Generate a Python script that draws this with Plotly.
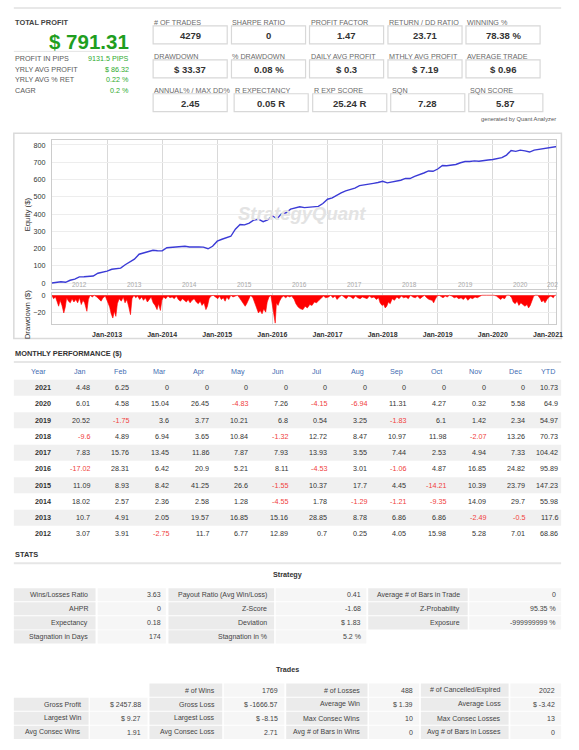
import plotly.graph_objects as go
import pandas as pd

W, H = 579, 750
FONT = "Liberation Sans, Arial, sans-serif"

# ---------------- data ----------------
total_profit = "$ 791.31"
summary_labels = ["PROFIT IN PIPS", "YRLY AVG PROFIT", "YRLY AVG % RET", "CAGR"]
summary_values = ["9131.5 PIPS", "$ 86.32", "0.22 %", "0.2 %"]

kpi_labels = [
    ["# OF TRADES", "SHARPE RATIO", "PROFIT FACTOR", "RETURN / DD RATIO", "WINNING %"],
    ["DRAWDOWN", "% DRAWDOWN", "DAILY AVG PROFIT", "MTHLY AVG PROFIT", "AVERAGE TRADE"],
    ["ANNUAL% / MAX DD%", "R EXPECTANCY", "R EXP SCORE", "SQN", "SQN SCORE"],
]
kpi_values = [
    ["4279", "0", "1.47", "23.71", "78.38 %"],
    ["$ 33.37", "0.08 %", "$ 0.3", "$ 7.19", "$ 0.96"],
    ["2.45", "0.05 R", "25.24 R", "7.28", "5.87"],
]

# equity at each month start (first value = start of Jan 2012)
equity_values = [
    0,
    3.07, 6.98, 4.23, 15.93, 22.70, 35.59, 36.29, 36.54, 40.59, 56.57, 61.85, 68.86,
    79.56, 84.47, 86.52, 106.09, 122.94, 138.10, 166.95, 175.73, 182.59, 189.45, 186.96, 186.46,
    204.48, 207.05, 209.41, 211.99, 213.27, 208.72, 210.50, 209.21, 208.00, 198.65, 212.74, 242.44,
    253.53, 262.46, 270.88, 312.13, 338.73, 337.18, 347.55, 365.25, 369.70, 355.49, 365.88, 389.67,
    372.65, 400.96, 407.38, 428.28, 433.49, 441.60, 437.07, 440.08, 439.02, 443.89, 460.74, 485.56,
    493.39, 509.15, 522.60, 534.46, 542.33, 550.26, 564.19, 567.74, 575.18, 577.71, 582.65, 589.98,
    580.38, 585.27, 592.21, 595.86, 606.70, 605.38, 618.10, 626.57, 637.54, 649.52, 647.45, 660.71,
    681.23, 679.48, 683.08, 686.85, 697.06, 703.86, 704.40, 707.65, 705.82, 711.92, 713.34, 715.68,
    721.69, 726.27, 741.31, 767.76, 762.93, 770.19, 766.04, 759.10, 770.41, 774.68, 775.00, 780.58,
    785.06, 791.31,
]
equity_dates = pd.date_range("2012-01-01", periods=len(equity_values), freq="MS")

dd_dates = [
    "2012-01-01", "2012-01-12", "2012-01-25", "2012-02-05", "2012-02-15", "2012-02-25", "2012-03-08", "2012-03-20",
    "2012-03-30", "2012-04-08", "2012-04-20", "2012-05-02", "2012-05-14", "2012-05-26", "2012-06-08", "2012-06-20",
    "2012-07-02", "2012-07-14", "2012-07-25", "2012-08-05", "2012-08-20", "2012-08-30", "2012-09-10", "2012-09-25",
    "2012-10-08", "2012-10-25", "2012-11-08", "2012-11-22", "2012-12-05", "2012-12-20",
    "2013-01-05", "2013-01-18", "2013-01-28", "2013-02-08", "2013-02-18", "2013-02-28", "2013-03-10", "2013-03-22",
    "2013-04-05", "2013-04-18", "2013-04-30", "2013-05-12", "2013-05-25", "2013-06-05", "2013-06-15", "2013-06-28",
    "2013-07-10", "2013-07-22", "2013-08-05", "2013-08-18", "2013-08-30", "2013-09-12", "2013-09-25", "2013-10-08",
    "2013-10-20", "2013-11-02", "2013-11-15", "2013-11-28", "2013-12-08", "2013-12-20", "2013-12-30",
    "2014-01-10", "2014-01-25", "2014-02-08", "2014-02-22", "2014-03-08", "2014-03-22", "2014-04-05", "2014-04-18",
    "2014-05-02", "2014-05-15", "2014-05-28", "2014-06-10", "2014-06-22", "2014-07-05", "2014-07-18", "2014-08-01",
    "2014-08-15", "2014-08-28", "2014-09-10", "2014-09-22", "2014-10-05", "2014-10-18", "2014-10-28", "2014-11-08",
    "2014-11-20", "2014-12-05", "2014-12-20",
    "2015-01-05", "2015-01-15", "2015-01-28", "2015-02-10", "2015-02-22", "2015-03-05", "2015-03-18", "2015-04-01",
    "2015-04-15", "2015-05-01", "2015-05-15", "2015-05-28", "2015-06-10", "2015-06-22", "2015-07-05", "2015-07-15",
    "2015-07-28", "2015-08-10", "2015-08-25", "2015-09-05", "2015-09-18", "2015-10-01", "2015-10-12", "2015-10-25",
    "2015-11-05", "2015-11-18", "2015-11-28", "2015-12-10", "2015-12-22",
    "2016-01-05", "2016-01-12", "2016-01-20", "2016-01-28", "2016-02-08", "2016-02-18", "2016-03-01", "2016-03-15",
    "2016-03-30", "2016-04-12", "2016-04-25", "2016-05-08", "2016-05-25", "2016-06-05", "2016-06-20", "2016-07-05",
    "2016-07-22", "2016-08-05", "2016-08-20", "2016-09-05", "2016-09-20", "2016-10-05", "2016-10-20", "2016-11-05",
    "2016-11-20", "2016-12-05", "2016-12-20",
    "2017-01-08", "2017-01-22", "2017-02-05", "2017-02-20", "2017-03-05", "2017-03-20", "2017-04-05", "2017-04-20",
    "2017-05-05", "2017-05-20", "2017-06-05", "2017-06-20", "2017-07-05", "2017-07-20", "2017-08-05", "2017-08-20",
    "2017-09-05", "2017-09-20", "2017-10-05", "2017-10-20", "2017-11-05", "2017-11-20", "2017-12-05", "2017-12-15",
    "2017-12-28",
    "2018-01-08", "2018-01-18", "2018-01-28", "2018-02-08", "2018-02-20", "2018-03-05", "2018-03-20", "2018-04-05",
    "2018-04-20", "2018-05-05", "2018-05-20", "2018-06-05", "2018-06-20", "2018-07-05", "2018-07-20", "2018-08-05",
    "2018-08-20", "2018-09-05", "2018-09-20", "2018-10-05", "2018-10-20", "2018-11-05", "2018-11-25", "2018-12-05",
    "2018-12-15", "2018-12-28",
    "2019-01-10", "2019-01-25", "2019-02-05", "2019-02-20", "2019-03-05", "2019-03-20", "2019-04-05", "2019-04-20",
    "2019-05-05", "2019-05-20", "2019-06-05", "2019-06-20", "2019-07-05", "2019-07-20", "2019-08-05", "2019-08-20",
    "2019-09-05", "2019-09-20", "2019-10-05", "2019-10-20", "2019-11-20", "2019-12-20",
    "2020-01-10", "2020-01-25", "2020-02-10", "2020-02-22", "2020-03-05", "2020-03-20", "2020-04-01", "2020-04-20",
    "2020-05-05", "2020-05-15", "2020-05-28", "2020-06-10", "2020-06-22", "2020-07-05", "2020-07-18", "2020-08-01",
    "2020-08-15", "2020-08-25", "2020-09-05", "2020-09-15", "2020-09-28", "2020-10-10", "2020-10-25", "2020-11-10",
    "2020-11-20", "2020-12-01", "2020-12-12", "2020-12-25",
    "2021-01-08", "2021-01-20", "2021-02-05", "2021-02-15", "2021-02-26",
]
dd_values = [
    0, -4, -2, -9, -13, -6, -12, -21, -14, -3, -7, -9, -4, -8, -5, -9,
    -3, -11, -6, -9, -19, -5, 0, -2, 0, -2, -5, -7, -3, -1,
    -8, -14, -22, -27, -19, -25, -10, -4, -7, -2, -9, -5, -14, -23, -4, 0,
    -3, -1, -5, -2, -6, -3, -8, -5, -2, -9, -12, -17, -10, -18, -6,
    -2, -4, -1, -3, -2, -4, -1, -5, -7, -4, -6, -8, -5, -9, -6, -4,
    -8, -10, -7, -12, -9, -17, -13, -4, -1, 0, -2,
    -4, -1, -5, -3, -7, -2, -5, 0, -2, -1, 0, -3, -6, -9, -13, -10,
    -4, 0, -3, -9, -15, -21, -18, -22, -16, -20, -8, -2, 0,
    -14, -24, -33, -9, -12, -7, -3, -1, -3, -1, -2, -1, -5, -10, -14, -16,
    -17, -13, -15, -11, -12, -8, -9, -6, -3, -1, -3,
    -2, 0, -3, -1, -5, -2, 0, -2, -4, -1, -2, -4, -1, -3, -4, -2,
    -3, -4, -1, -3, -2, -5, -3, -9, -12,
    -11, -15, -13, -8, -10, -4, -6, -2, -4, -1, -3, -2, -4, 0, -2, -3,
    -1, -4, -2, 0, -3, -5, -6, -9, -5, -1,
    0, -2, -3, -1, -2, 0, -1, -3, -2, -4, -3, -5, -2, -6, -3, -4,
    -2, -3, -1, 0, 0, 0,
    0, -1, -4, -5, -3, -4, 0, 0, -3, -8, -10, -7, -12, -9, -11, -13,
    -11, -15, -12, -6, -1, 0, 0, -4, -8, -6, -9, -5,
    -2, -1, -3, 0, 0,
]

year_label_text = ["2012", "2013", "2014", "2015", "2016", "2017", "2018", "2019", "2020", "202"]
year_label_dates = ["2012-07-01", "2013-07-01", "2014-07-01", "2015-07-01", "2016-07-01",
                    "2017-07-01", "2018-07-01", "2019-07-01", "2020-07-01", "2021-01-31"]
grid_dates = ["2012-01-01", "2013-01-01", "2014-01-01", "2015-01-01", "2016-01-01", "2017-01-01",
              "2018-01-01", "2019-01-01", "2020-01-01", "2021-01-01"]
jan_tick_dates = ["2013-01-01", "2014-01-01", "2015-01-01", "2016-01-01", "2017-01-01",
                  "2018-01-01", "2019-01-01", "2020-01-01", "2021-01-01"]
jan_tick_text = ["Jan-2013", "Jan-2014", "Jan-2015", "Jan-2016", "Jan-2017",
                 "Jan-2018", "Jan-2019", "Jan-2020", "Jan-2021"]

table_years = ["2021", "2020", "2019", "2018", "2017", "2016", "2015", "2014", "2013", "2012"]
month_names = ["Jan", "Feb", "Mar", "Apr", "May", "Jun", "Jul", "Aug", "Sep", "Oct", "Nov", "Dec"]
monthly = [
    [4.48, 6.25, 0, 0, 0, 0, 0, 0, 0, 0, 0, 0],
    [6.01, 4.58, 15.04, 26.45, -4.83, 7.26, -4.15, -6.94, 11.31, 4.27, 0.32, 5.58],
    [20.52, -1.75, 3.6, 3.77, 10.21, 6.8, 0.54, 3.25, -1.83, 6.1, 1.42, 2.34],
    [-9.6, 4.89, 6.94, 3.65, 10.84, -1.32, 12.72, 8.47, 10.97, 11.98, -2.07, 13.26],
    [7.83, 15.76, 13.45, 11.86, 7.87, 7.93, 13.93, 3.55, 7.44, 2.53, 4.94, 7.33],
    [-17.02, 28.31, 6.42, 20.9, 5.21, 8.11, -4.53, 3.01, -1.06, 4.87, 16.85, 24.82],
    [11.09, 8.93, 8.42, 41.25, 26.6, -1.55, 10.37, 17.7, 4.45, -14.21, 10.39, 23.79],
    [18.02, 2.57, 2.36, 2.58, 1.28, -4.55, 1.78, -1.29, -1.21, -9.35, 14.09, 29.7],
    [10.7, 4.91, 2.05, 19.57, 16.85, 15.16, 28.85, 8.78, 6.86, 6.86, -2.49, -0.5],
    [3.07, 3.91, -2.75, 11.7, 6.77, 12.89, 0.7, 0.25, 4.05, 15.98, 5.28, 7.01],
]
ytd = [10.73, 64.9, 54.97, 70.73, 104.42, 95.89, 147.23, 55.98, 117.6, 68.86]

strategy_rows = [
    [("Wins/Losses Ratio", "3.63"), ("Payout Ratio (Avg Win/Loss)", "0.41"), ("Average # of Bars in Trade", "0")],
    [("AHPR", "0"), ("Z-Score", "-1.68"), ("Z-Probability", "95.35 %")],
    [("Expectancy", "0.18"), ("Deviation", "$ 1.83"), ("Exposure", "-999999999 %")],
    [("Stagnation in Days", "174"), ("Stagnation in %", "5.2 %")],
]
trades_rows = [
    [None, ("# of Wins", "1769"), ("# of Losses", "488"), ("# of Cancelled/Expired", "2022")],
    [("Gross Profit", "$ 2457.88"), ("Gross Loss", "$ -1666.57"), ("Average Win", "$ 1.39"), ("Average Loss", "$ -3.42")],
    [("Largest Win", "$ 9.27"), ("Largest Loss", "$ -8.15"), ("Max Consec Wins", "10"), ("Max Consec Losses", "13")],
    [("Avg Consec Wins", "1.91"), ("Avg Consec Loss", "2.71"), ("Avg # of Bars in Wins", "0"), ("Avg # of Bars in Losses", "0")],
]

# ---------------- helpers ----------------
annotations = []
shapes = []


def txt(x, y, s, size=7.3, color="#444", anchor="left", bold=False, italic=False, angle=0):
    annotations.append(dict(
        x=x / W, y=1 - y / H, xref="paper", yref="paper", text=s, showarrow=False,
        xanchor=anchor, yanchor="middle", textangle=angle, borderpad=0,
        font=dict(family=FONT, size=size, color=color,
                  weight="bold" if bold else "normal",
                  style="italic" if italic else "normal")))


def rect(x0, y0, x1, y1, fill=None, line=None, lw=1):
    shapes.append(dict(
        type="rect", xref="paper", yref="paper", x0=x0 / W, x1=x1 / W, y0=1 - y1 / H, y1=1 - y0 / H,
        fillcolor=fill if fill else "rgba(0,0,0,0)",
        line=dict(color=line if line else "rgba(0,0,0,0)", width=lw if line else 0),
        layer="below"))


def hline(x0, x1, y, color="#e6e6e6", lw=1):
    shapes.append(dict(type="line", xref="paper", yref="paper", x0=x0 / W, x1=x1 / W,
                       y0=1 - y / H, y1=1 - y / H, line=dict(color=color, width=lw), layer="below"))


# ---------------- header ----------------
hline(14, 568, 6, "#e8e8e8", 2)
txt(14, 20.7, "TOTAL PROFIT", 7.4, "#444", bold=True)
txt(131.5, 39.5, total_profit, 20.5, "#1f9e1f", "right", bold=True)
hline(14, 131, 49.5, "#e4e4e4", 1)
for i, (lab, val) in enumerate(zip(summary_labels, summary_values)):
    y = 56.8 + i * 10.65
    txt(14, y, lab, 7.2, "#5a5a5a")
    txt(131.5, y, val, 7.2, "#2eaa2e", "right")

row_label_y = [20.7, 54.2, 88.3]
row_box_y = [(24, 42), (58, 76), (92, 110)]
col_x = [[155, 234.3, 313.3, 392.7, 471.7],
         [155, 234.3, 313.3, 392.7, 471.7],
         [155, 237, 316.5, 395.5, 474.5]]
for r in range(3):
    for c in range(5):
        x0 = col_x[r][c]
        y0, y1 = row_box_y[r]
        rect(x0, y0, x0 + 75, y1, fill="#ffffff", line="#d8d8d8", lw=1.2)
        txt(x0, row_label_y[r], kpi_labels[r][c], 7.2, "#6a6a6a")
        txt(x0 + 37.5, (y0 + y1) / 2 + 0.3, kpi_values[r][c], 9.5, "#333333", "center", bold=True)
txt(564, 117.5, "generated by Quant Analyzer", 5.8, "#555555", "right")

# ---------------- chart ----------------
rect(14, 131.7, 568.3, 337.3, fill="#ffffff", line="#dadada", lw=1.5)
txt(306, 212, "StrategyQuant", 18.5, "#e3e3e3", "center", bold=True, italic=True)
txt(28, 213.5, "Equity ($)", 7.9, "#333333", "center", angle=-90)
txt(28, 313.5, "Drawdown ($)", 7.9, "#333333", "center", angle=-90)
for d, t in zip(year_label_dates, year_label_text):
    annotations.append(dict(x=d, y=1 - 283.7 / H, xref="x", yref="paper", text=t, showarrow=False,
                            xanchor="center", yanchor="middle", borderpad=0,
                            font=dict(family=FONT, size=6.5, color="#aaaaaa")))

fig = go.Figure()
fig.add_trace(go.Scatter(x=equity_dates, y=equity_values, mode="lines",
                         line=dict(color="#3b3bd6", width=1.4), xaxis="x", yaxis="y",
                         hoverinfo="skip", showlegend=False))
fig.add_trace(go.Scatter(x=pd.to_datetime(dd_dates), y=dd_values, mode="lines", fill="tozeroy",
                         fillcolor="#ff0000", line=dict(color="#ff0000", width=0.6),
                         xaxis="x2", yaxis="y2", hoverinfo="skip", showlegend=False))

xdom = [52.5 / W, 563.3 / W]
xrange_ = ["2012-01-01", "2021-02-26"]
axis_line = dict(showline=True, mirror=True, linecolor="#cccccc", linewidth=1, zeroline=False)

# ---------------- monthly table ----------------
txt(14, 352.7, "MONTHLY PERFORMANCE ($)", 7.4, "#333333", bold=True)
hline(14, 568, 361, "#e6e6e6", 2)
col_right = [92 + 40.06 * i for i in range(12)] + [566]
txt(39, 370.5, "Year", 7.2, "#3f6db3", "center")
for j, m in enumerate(month_names + ["YTD"]):
    txt(col_right[j] - 11, 370.5, m, 7.2, "#3f6db3", "center")
for i, yr in enumerate(table_years):
    y = 386.7 + i * 16.3
    if i % 2 == 0:
        rect(14, y - 8, 568, y + 8, fill="#f0f0f0")
    txt(43.5, y, yr, 7.2, "#333333", "center", bold=True)
    vals = monthly[i] + [ytd[i]]
    for j, v in enumerate(vals):
        color = "#f0403c" if v < 0 else "#333333"
        txt(col_right[j], y, f"{v:g}", 7.2, color, "right")

# ---------------- stats ----------------
txt(14, 554.3, "STATS", 7.4, "#333333", bold=True)
hline(14, 568, 562.7, "#e6e6e6", 2)
txt(291, 574.3, "Strategy", 7.2, "#333333", "center", bold=True)
s_cells = [(14, 96.7), (98.9, 167.9), (170.5, 277.5), (279, 370.8), (372.7, 473.4), (475, 568)]
for i, row in enumerate(strategy_rows):
    y = 594.3 + i * 14.1
    for g, (lab, val) in enumerate(row):
        lx0, lx1 = s_cells[2 * g]
        vx0, vx1 = s_cells[2 * g + 1]
        rect(lx0, y - 6.6, lx1, y + 6.6, fill="#ebebeb")
        rect(vx0, y - 6.6, vx1, y + 6.6, fill="#f6f6f6")
        txt(lx1 - 6.5, y, lab, 7.0, "#444444", "right")
        txt(vx1 - 4, y, val, 7.0, "#444444", "right")

txt(291.5, 669, "Trades", 7.2, "#333333", "center", bold=True)
t_cells = [(14, 89.7), (91, 149.4), (151.3, 225), (226.5, 287.8), (289.7, 372), (373.5, 424.4), (426, 514.8), (516.6, 568)]
for i, row in enumerate(trades_rows):
    y = 690 + i * 14.1
    for g, cell in enumerate(row):
        if cell is None:
            continue
        lab, val = cell
        lx0, lx1 = t_cells[2 * g]
        vx0, vx1 = t_cells[2 * g + 1]
        rect(lx0, y - 6.6, lx1, y + 6.6, fill="#ebebeb")
        rect(vx0, y - 6.6, vx1, y + 6.6, fill="#f6f6f6")
        txt(lx1 - 6.5, y, lab, 7.0, "#444444", "right")
        txt(vx1 - 5.5, y, val, 7.0, "#444444", "right")

fig.update_layout(
    width=W, height=H, autosize=False,
    margin=dict(l=0, r=0, t=0, b=0, pad=0),
    paper_bgcolor="#ffffff", plot_bgcolor="rgba(0,0,0,0)",
    font=dict(family=FONT, size=7, color="#333333"),
    showlegend=False,
    xaxis=dict(domain=xdom, anchor="y", type="date", range=xrange_,
               tickmode="array", tickvals=grid_dates, showticklabels=False, ticks="",
               showgrid=True, gridcolor="#d9d9d9", gridwidth=1,
               **axis_line),
    yaxis=dict(domain=[1 - 288 / H, 1 - 138 / H], anchor="x", range=[-36, 831],
               tickmode="array", tickvals=list(range(0, 801, 100)),
               showgrid=True, gridcolor="#ededed", ticks="", ticklabelstandoff=4,
               tickfont=dict(size=7.2, color="#333333"), **axis_line),
    xaxis2=dict(domain=xdom, anchor="y2", type="date", range=xrange_, matches="x",
                tickmode="array", tickvals=jan_tick_dates, ticktext=jan_tick_text,
                showgrid=True, gridcolor="#d9d9d9", ticks="", ticklabelstandoff=3,
                tickfont=dict(size=7, color="#333333", weight="bold"), **axis_line),
    yaxis2=dict(domain=[1 - 323 / H, 1 - 292 / H], anchor="x2", range=[-34.2, 2.4],
                tickmode="array", tickvals=[0, -20],
                showgrid=True, gridcolor="#ededed", ticks="", ticklabelstandoff=4,
                tickfont=dict(size=7.2, color="#333333"), **axis_line),
    annotations=annotations,
    shapes=shapes,
)

fig.write_html("out.html")
